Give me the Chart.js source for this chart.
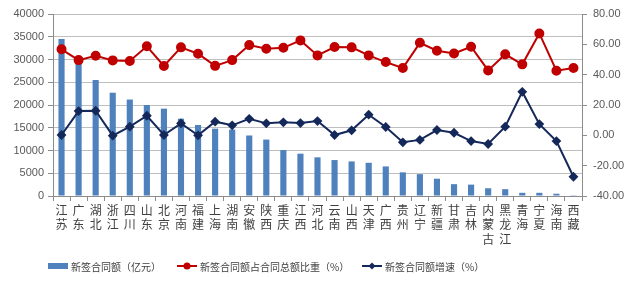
<!DOCTYPE html>
<html>
<head>
<meta charset="utf-8">
<script src="https://cdn.jsdelivr.net/npm/chart.js@4.4.1/dist/chart.umd.min.js"></script>
<style>
  html, body { margin: 0; padding: 0; background: #fff; }
  #wrap { position: relative; width: 640px; height: 285px; }
  #legend { position: absolute; top: 258px; left: 0; width: 640px; height: 16px;
            font: 10px "Noto Sans CJK SC", "Liberation Sans", sans-serif; color: #404040; }
  .item { position: absolute; top: 0; display: flex; align-items: center; height: 16px; white-space: nowrap; }
  .item canvas { margin-right: 2px; }
</style>
</head>
<body>
<div id="wrap">
  <canvas id="chart" width="640" height="285"></canvas>
  <div id="legend"></div>
</div>
<script>
// provinces, stacked vertically under the axis
const provinces = ['江苏','广东','湖北','浙江','四川','山东','北京','河南','福建','上海','湖南','安徽','陕西','重庆','江西',
  '河北','云南','山西','天津','广西','贵州','辽宁','新疆','甘肃','吉林','内蒙古','黑龙江','青海','宁夏','海南','西藏'];

// 新签合同额（亿元）
const newContracts = [34500, 29800, 25500, 22700, 21200, 20000, 19200, 17000, 15600, 14800, 14600, 13300, 12400, 10100, 9300,
  8500, 7900, 7600, 7300, 6500, 5200, 4800, 3800, 2600, 2500, 1700, 1500, 700, 700, 500, 50];

// 新签合同额占合同总额比重（%）
const shareOfTotal = [56.7, 49.6, 52.5, 49.4, 49.0, 58.7, 45.7, 58.0, 53.8, 45.8, 49.6, 59.5, 57.1, 57.7, 62.6,
  52.7, 58.2, 58.0, 52.7, 48.3, 44.4, 61.0, 55.8, 54.0, 58.4, 42.8, 53.4, 46.8, 67.2, 42.6, 44.4];

// 新签合同额增速（%）
const growthRate = [0.2, 16.0, 16.2, -0.2, 5.7, 12.9, 0.2, 7.9, 0.0, 9.0, 6.6, 10.9, 7.9, 8.6, 8.1,
  9.4, 0.2, 3.3, 13.6, 5.5, -4.6, -3.0, 3.5, 1.7, -3.8, -5.7, 5.7, 28.7, 7.4, -3.8, -27.3];

const leftTicks = [0, 5000, 10000, 15000, 20000, 25000, 30000, 35000, 40000];
const rightTicks = [-40, -20, 0, 20, 40, 60, 80];

const seriesNames = ['新签合同额（亿元）', '新签合同额占合同总额比重（%）', '新签合同额增速（%）'];

const barColor = '#4F81BD';
const redColor = '#C00000';
const navyColor = '#14285A';
const gridColor = '#BFBFBF';
const axisColor = '#8C8C8C';
const tickColor = '#595959';

const labels = provinces.map(p => p.split(''));

const ctx = document.getElementById('chart').getContext('2d');
const chart = new Chart(ctx, {
    data: {
        labels: labels,
        datasets: [
            { type: 'line', label: seriesNames[1], data: shareOfTotal, yAxisID: 'y1',
              borderColor: redColor, backgroundColor: redColor, borderWidth: 2,
              pointRadius: 4, pointStyle: 'circle', tension: 0, order: 1 },
            { type: 'line', label: seriesNames[2], data: growthRate, yAxisID: 'y1',
              borderColor: navyColor, backgroundColor: navyColor, borderWidth: 2,
              pointRadius: 3.5, pointStyle: 'rectRot', tension: 0, order: 2 },
            { type: 'bar', label: seriesNames[0], data: newContracts, yAxisID: 'y',
              backgroundColor: barColor, categoryPercentage: 0.8, barPercentage: 0.45, order: 3 }
        ]
    },
    options: {
        responsive: false,
        animation: false,
        layout: { padding: { top: 14, left: 0, right: 0, bottom: 36 } },
        plugins: { legend: { display: false }, tooltip: { enabled: false } },
        scales: {
            x: {
                grid: { display: true, drawOnChartArea: false, drawTicks: true, tickLength: 5, color: axisColor, offset: true },
                border: { color: axisColor },
                ticks: { color: '#404040', autoSkip: false, maxRotation: 0, padding: 2,
                         font: { family: '"Noto Sans CJK SC", sans-serif', size: 12, lineHeight: 1.2 } },
                afterFit: s => { s.height = 53; }
            },
            y: {
                position: 'left', min: 0, max: 40000,
                afterBuildTicks: s => { s.ticks = leftTicks.map(v => ({ value: v })); },
                grid: { color: gridColor, tickLength: 5, tickColor: axisColor },
                border: { color: axisColor },
                ticks: { color: tickColor, padding: 4, callback: v => String(v),
                         font: { family: '"Liberation Sans", Arial, sans-serif', size: 11 } },
                afterFit: s => { s.width = 53; }
            },
            y1: {
                position: 'right', min: -40, max: 80,
                afterBuildTicks: s => { s.ticks = rightTicks.map(v => ({ value: v })); },
                grid: { drawOnChartArea: false, tickLength: 5, color: axisColor },
                border: { color: axisColor },
                ticks: { color: tickColor, padding: 6, callback: v => v.toFixed(2),
                         font: { family: '"Liberation Sans", Arial, sans-serif', size: 11 } },
                afterFit: s => { s.width = 58; }
            }
        }
    }
});

// legend: small swatches drawn like the series, text kept as text
function swatch(kind) {
    const c = document.createElement('canvas');
    c.width = 22; c.height = 12;
    const g = c.getContext('2d');
    if (kind === 'bar') {
        g.fillStyle = barColor;
        g.fillRect(1, 3, 20, 6);
    } else {
        const col = kind === 'red' ? redColor : navyColor;
        g.strokeStyle = col; g.fillStyle = col; g.lineWidth = 2;
        g.beginPath(); g.moveTo(1, 6); g.lineTo(21, 6); g.stroke();
        g.beginPath();
        if (kind === 'red') g.arc(11, 6, 3.5, 0, Math.PI * 2);
        else { g.moveTo(11, 2.5); g.lineTo(14.5, 6); g.lineTo(11, 9.5); g.lineTo(7.5, 6); g.closePath(); }
        g.fill();
    }
    return c;
}
const legendEl = document.getElementById('legend');
[['bar', 47], ['red', 176], ['navy', 361]].forEach(([kind, x], i) => {
    const item = document.createElement('div');
    item.className = 'item';
    item.style.left = x + 'px';
    item.appendChild(swatch(kind));
    const t = document.createElement('span');
    t.textContent = seriesNames[i];
    item.appendChild(t);
    legendEl.appendChild(item);
});
</script>
</body>
</html>
